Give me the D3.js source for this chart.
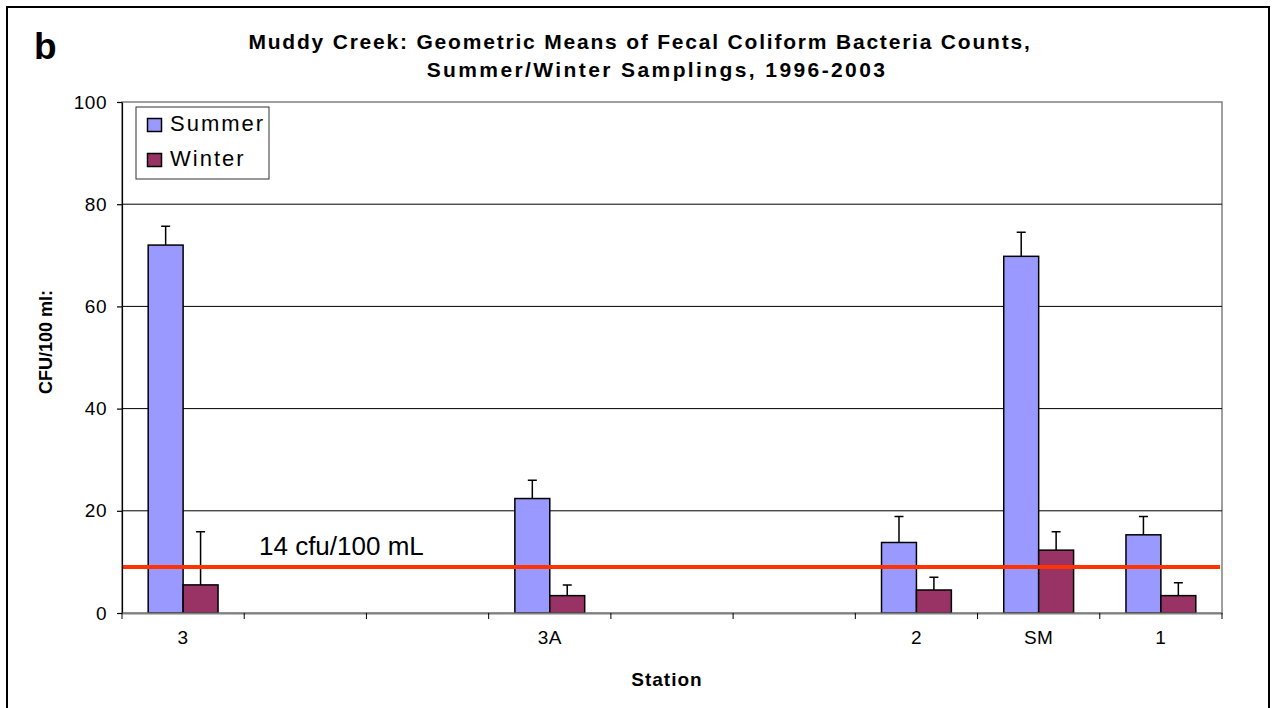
<!DOCTYPE html>
<html>
<head>
<meta charset="utf-8">
<script src="https://cdn.jsdelivr.net/npm/d3@7"></script>
<style>
  body { margin: 0; background: #fff; }
  svg text { font-family: "Liberation Sans", Arial, sans-serif; fill: #000; }
</style>
</head>
<body>
<svg id="chart" width="1272" height="708"></svg>
<script>
// stations along the creek (blank slots keep the spacing of the original)
const stations = ["3", "", "", "3A", "", "", "2", "SM", "1"];
const summer = [72.0, null, null, 22.4, null, null, 13.8, 69.8, 15.3];
const winter = [5.5, null, null, 3.4, null, null, 4.5, 12.3, 3.4];
const summerErr = [3.7, null, null, 3.6, null, null, 5.1, 4.7, 3.6];
const winterErr = [10.4, null, null, 2.1, null, null, 2.5, 3.6, 2.5];
const yTicks = [0, 20, 40, 60, 80, 100];
const standard = 9;
const standardLabel = "14 cfu/100 mL";
const seriesNames = ["Summer", "Winter"];
const colors = ["#9999FF", "#993366"];

const svg = d3.select("#chart");
const margin = { top: 102, right: 50, bottom: 95, left: 122 };
const W = 1272, H = 708;

// outer frame
svg.append("rect")
  .attr("x", 7).attr("y", 7)
  .attr("width", 1262).attr("height", 720)
  .attr("fill", "none").attr("stroke", "#000").attr("stroke-width", 2);

const x = d3.scaleBand()
  .domain(d3.range(stations.length))
  .range([margin.left, W - margin.right]);

const y = d3.scaleLinear()
  .domain([0, 100])
  .range([H - margin.bottom, margin.top]);

const inner = d3.scaleBand()
  .domain([0, 1])
  .range([0, x.bandwidth()])
  .paddingInner(0)
  .paddingOuter(0.75);

// plot frame
svg.append("rect")
  .attr("x", margin.left).attr("y", margin.top)
  .attr("width", x.range()[1] - margin.left)
  .attr("height", y(0) - margin.top)
  .attr("fill", "none").attr("stroke", "#808080").attr("stroke-width", 1.5);

// grid
svg.append("g")
  .selectAll("line")
  .data(yTicks.filter(d => d > 0 && d < 100))
  .join("line")
  .attr("x1", margin.left).attr("x2", x.range()[1])
  .attr("y1", d => y(d)).attr("y2", d => y(d))
  .attr("stroke", "#000").attr("stroke-width", 1);

// bars
const series = [summer, winter];
const errs = [summerErr, winterErr];
series.forEach((vals, s) => {
  const g = svg.append("g");
  const pts = vals.map((v, i) => ({ i, v, e: errs[s][i] })).filter(d => d.v != null);
  g.selectAll("rect")
    .data(pts)
    .join("rect")
    .attr("x", d => x(d.i) + inner(s))
    .attr("y", d => y(d.v))
    .attr("width", inner.bandwidth())
    .attr("height", d => y(0) - y(d.v))
    .attr("fill", colors[s])
    .attr("stroke", "#000").attr("stroke-width", 1.5);
  // error bars
  g.selectAll("path.err")
    .data(pts)
    .join("path")
    .attr("class", "err")
    .attr("d", d => {
      const cx = x(d.i) + inner(s) + inner.bandwidth() / 2;
      const y0 = y(d.v), y1 = y(d.v + d.e);
      return `M${cx},${y0}V${y1}M${cx - 4.5},${y1}H${cx + 4.5}`;
    })
    .attr("fill", "none").attr("stroke", "#000").attr("stroke-width", 1.5);
});

// standard line
svg.append("line")
  .attr("x1", margin.left).attr("x2", x.range()[1] - 2)
  .attr("y1", y(standard)).attr("y2", y(standard))
  .attr("stroke", "#FF3300").attr("stroke-width", 4);

svg.append("text")
  .attr("x", 259).attr("y", y(standard) - 12)
  .attr("font-size", 26)
  .text(standardLabel);

// axes
const yAxis = svg.append("g")
  .attr("transform", `translate(${margin.left},0)`)
  .call(d3.axisLeft(y).tickValues(yTicks).tickSize(5).tickPadding(10).tickSizeOuter(0));
yAxis.selectAll("text").attr("font-size", 19).attr("letter-spacing", 0.5)
  .style("font-family", "Liberation Sans, Arial, sans-serif");

const xAxis = svg.append("g")
  .attr("transform", `translate(0,${y(0)})`)
  .call(d3.axisBottom(x).tickFormat(i => stations[i]).tickSize(0).tickPadding(18));
xAxis.selectAll("text").attr("font-size", 19).attr("letter-spacing", 0.5)
  .style("font-family", "Liberation Sans, Arial, sans-serif");
// category boundary ticks
xAxis.selectAll("line.sep")
  .data(d3.range(stations.length + 1))
  .join("line")
  .attr("class", "sep")
  .attr("x1", i => margin.left + i * x.step()).attr("x2", i => margin.left + i * x.step())
  .attr("y1", 0).attr("y2", 6)
  .attr("stroke", "#000");
[xAxis, yAxis].forEach(a => a.selectAll("path.domain, .tick line").attr("stroke", "#000").attr("stroke-width", 1.2));
xAxis.select("path.domain").attr("stroke", "#808080").attr("stroke-width", 2);

// titles
svg.append("text")
  .attr("x", 640).attr("y", 49)
  .attr("text-anchor", "middle")
  .attr("font-size", 21).attr("font-weight", "bold")
  .attr("letter-spacing", 1.8)
  .text("Muddy Creek: Geometric Means of Fecal Coliform Bacteria Counts,");
svg.append("text")
  .attr("x", 657).attr("y", 77)
  .attr("text-anchor", "middle")
  .attr("font-size", 21).attr("font-weight", "bold")
  .attr("letter-spacing", 2.4)
  .text("Summer/Winter Samplings, 1996-2003");

svg.append("text")
  .attr("x", 34).attr("y", 59)
  .attr("font-size", 37).attr("font-weight", "bold")
  .text("b");

svg.append("text")
  .attr("x", 667).attr("y", 686)
  .attr("text-anchor", "middle")
  .attr("font-size", 19).attr("font-weight", "bold")
  .attr("letter-spacing", 1)
  .text("Station");

svg.append("text")
  .attr("transform", "translate(52,342) rotate(-90)")
  .attr("text-anchor", "middle")
  .attr("font-size", 18).attr("font-weight", "bold")
  .text("CFU/100 ml:");

// legend
const legend = svg.append("g").attr("transform", "translate(136,107)");
legend.append("rect")
  .attr("width", 133).attr("height", 72)
  .attr("fill", "#fff").attr("stroke", "#333").attr("stroke-width", 1);
seriesNames.forEach((name, i) => {
  legend.append("rect")
    .attr("x", 11.5).attr("y", 11.5 + i * 35)
    .attr("width", 14).attr("height", 13)
    .attr("fill", colors[i]).attr("stroke", "#000").attr("stroke-width", 1.5);
  legend.append("text")
    .attr("x", 34).attr("y", 24 + i * 35)
    .attr("font-size", 22).attr("letter-spacing", 2)
    .text(name);
});
</script>
</body>
</html>
